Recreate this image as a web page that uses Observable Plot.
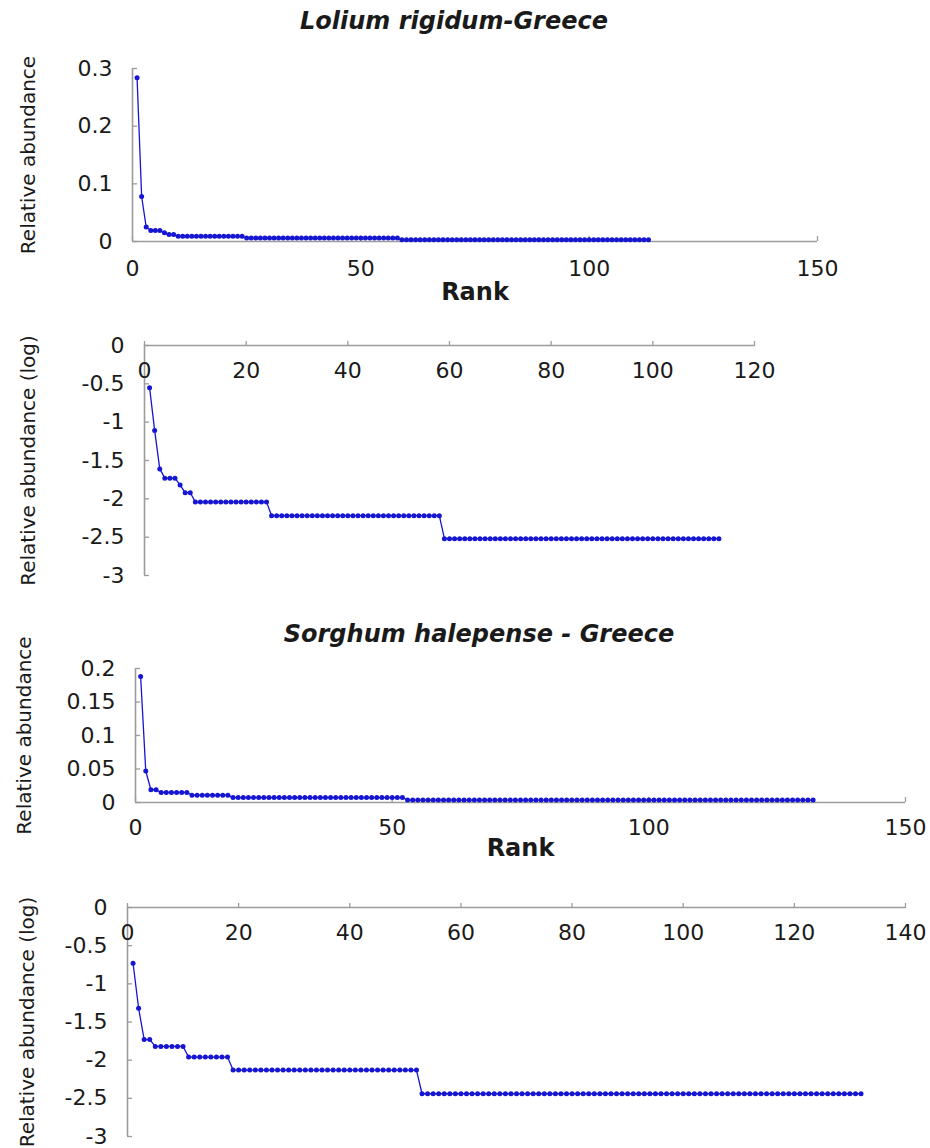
<!DOCTYPE html>
<html>
<head>
<meta charset="utf-8">
<script src="https://cdn.jsdelivr.net/npm/d3@7"></script>
<script src="https://cdn.jsdelivr.net/npm/@observablehq/plot@0.6"></script>
<style>
  html, body { margin: 0; padding: 0; background: #fff; }
  #fig { position: relative; width: 930px; height: 1148px; overflow: hidden; background: #fff; font-family: "DejaVu Sans", sans-serif; }
  .ttl { position: absolute; transform: translate(-50%, -50%); font-family: "DejaVu Sans", sans-serif; font-style: italic; font-weight: bold; font-size: 24px; white-space: nowrap; color: #1a1a1a; }
  .panel { position: absolute; left: 0; }
</style>
</head>
<body>
<div id="fig"></div>
<script>
// ---------- texts ----------
const loliumTitle = "Lolium rigidum-Greece";
const sorghumTitle = "Sorghum halepense - Greece";
const xLabel = "Rank";
const yLabelLinear = "Relative abundance";
const yLabelLog = "Relative abundance (log)";

// ---------- data (index + 1 = rank) ----------
const loliumRelative = [
  0.284, 0.078, 0.025, 0.019, 0.019, 0.019, 0.015, 0.012, 0.012,
  0.009, 0.009, 0.009, 0.009, 0.009, 0.009, 0.009, 0.009, 0.009, 0.009,
  0.009, 0.009, 0.009, 0.009, 0.009,
  0.006, 0.006, 0.006, 0.006, 0.006, 0.006, 0.006, 0.006, 0.006, 0.006,
  0.006, 0.006, 0.006, 0.006, 0.006, 0.006, 0.006, 0.006, 0.006, 0.006,
  0.006, 0.006, 0.006, 0.006, 0.006, 0.006, 0.006, 0.006, 0.006, 0.006,
  0.006, 0.006, 0.006, 0.006,
  0.003, 0.003, 0.003, 0.003, 0.003, 0.003, 0.003, 0.003, 0.003, 0.003,
  0.003, 0.003, 0.003, 0.003, 0.003, 0.003, 0.003, 0.003, 0.003, 0.003,
  0.003, 0.003, 0.003, 0.003, 0.003, 0.003, 0.003, 0.003, 0.003, 0.003,
  0.003, 0.003, 0.003, 0.003, 0.003, 0.003, 0.003, 0.003, 0.003, 0.003,
  0.003, 0.003, 0.003, 0.003, 0.003, 0.003, 0.003, 0.003, 0.003, 0.003,
  0.003, 0.003, 0.003, 0.003, 0.003
];
const loliumLog = [
  -0.55, -1.11, -1.61, -1.73, -1.73, -1.73, -1.82, -1.92, -1.92,
  -2.04, -2.04, -2.04, -2.04, -2.04, -2.04, -2.04, -2.04, -2.04, -2.04,
  -2.04, -2.04, -2.04, -2.04, -2.04,
  -2.22, -2.22, -2.22, -2.22, -2.22, -2.22, -2.22, -2.22, -2.22, -2.22,
  -2.22, -2.22, -2.22, -2.22, -2.22, -2.22, -2.22, -2.22, -2.22, -2.22,
  -2.22, -2.22, -2.22, -2.22, -2.22, -2.22, -2.22, -2.22, -2.22, -2.22,
  -2.22, -2.22, -2.22, -2.22,
  -2.52, -2.52, -2.52, -2.52, -2.52, -2.52, -2.52, -2.52, -2.52, -2.52,
  -2.52, -2.52, -2.52, -2.52, -2.52, -2.52, -2.52, -2.52, -2.52, -2.52,
  -2.52, -2.52, -2.52, -2.52, -2.52, -2.52, -2.52, -2.52, -2.52, -2.52,
  -2.52, -2.52, -2.52, -2.52, -2.52, -2.52, -2.52, -2.52, -2.52, -2.52,
  -2.52, -2.52, -2.52, -2.52, -2.52, -2.52, -2.52, -2.52, -2.52, -2.52,
  -2.52, -2.52, -2.52, -2.52, -2.52
];
const sorghumRelative = [
  0.188, 0.047, 0.019, 0.019,
  0.015, 0.015, 0.015, 0.015, 0.015, 0.015,
  0.011, 0.011, 0.011, 0.011, 0.011, 0.011, 0.011, 0.011,
  0.0074, 0.0074, 0.0074, 0.0074, 0.0074, 0.0074, 0.0074, 0.0074, 0.0074, 0.0074,
  0.0074, 0.0074, 0.0074, 0.0074, 0.0074, 0.0074, 0.0074, 0.0074, 0.0074, 0.0074,
  0.0074, 0.0074, 0.0074, 0.0074, 0.0074, 0.0074, 0.0074, 0.0074, 0.0074, 0.0074,
  0.0074, 0.0074, 0.0074, 0.0074,
  0.0036, 0.0036, 0.0036, 0.0036, 0.0036, 0.0036, 0.0036, 0.0036, 0.0036, 0.0036,
  0.0036, 0.0036, 0.0036, 0.0036, 0.0036, 0.0036, 0.0036, 0.0036, 0.0036, 0.0036,
  0.0036, 0.0036, 0.0036, 0.0036, 0.0036, 0.0036, 0.0036, 0.0036, 0.0036, 0.0036,
  0.0036, 0.0036, 0.0036, 0.0036, 0.0036, 0.0036, 0.0036, 0.0036, 0.0036, 0.0036,
  0.0036, 0.0036, 0.0036, 0.0036, 0.0036, 0.0036, 0.0036, 0.0036, 0.0036, 0.0036,
  0.0036, 0.0036, 0.0036, 0.0036, 0.0036, 0.0036, 0.0036, 0.0036, 0.0036, 0.0036,
  0.0036, 0.0036, 0.0036, 0.0036, 0.0036, 0.0036, 0.0036, 0.0036, 0.0036, 0.0036,
  0.0036, 0.0036, 0.0036, 0.0036, 0.0036, 0.0036, 0.0036, 0.0036, 0.0036, 0.0036
];
const sorghumLog = [
  -0.73, -1.32, -1.73, -1.73,
  -1.82, -1.82, -1.82, -1.82, -1.82, -1.82,
  -1.96, -1.96, -1.96, -1.96, -1.96, -1.96, -1.96, -1.96,
  -2.13, -2.13, -2.13, -2.13, -2.13, -2.13, -2.13, -2.13, -2.13, -2.13,
  -2.13, -2.13, -2.13, -2.13, -2.13, -2.13, -2.13, -2.13, -2.13, -2.13,
  -2.13, -2.13, -2.13, -2.13, -2.13, -2.13, -2.13, -2.13, -2.13, -2.13,
  -2.13, -2.13, -2.13, -2.13,
  -2.44, -2.44, -2.44, -2.44, -2.44, -2.44, -2.44, -2.44, -2.44, -2.44,
  -2.44, -2.44, -2.44, -2.44, -2.44, -2.44, -2.44, -2.44, -2.44, -2.44,
  -2.44, -2.44, -2.44, -2.44, -2.44, -2.44, -2.44, -2.44, -2.44, -2.44,
  -2.44, -2.44, -2.44, -2.44, -2.44, -2.44, -2.44, -2.44, -2.44, -2.44,
  -2.44, -2.44, -2.44, -2.44, -2.44, -2.44, -2.44, -2.44, -2.44, -2.44,
  -2.44, -2.44, -2.44, -2.44, -2.44, -2.44, -2.44, -2.44, -2.44, -2.44,
  -2.44, -2.44, -2.44, -2.44, -2.44, -2.44, -2.44, -2.44, -2.44, -2.44,
  -2.44, -2.44, -2.44, -2.44, -2.44, -2.44, -2.44, -2.44, -2.44, -2.44
];

// ---------- tick values ----------
const linearRankTicks = [0, 50, 100, 150];
const loliumLogRankTicks = [0, 20, 40, 60, 80, 100, 120];
const sorghumLogRankTicks = [0, 20, 40, 60, 80, 100, 120, 140];
const loliumRelTicks = [0, 0.1, 0.2, 0.3];
const sorghumRelTicks = [0, 0.05, 0.1, 0.15, 0.2];
const logTicks = [0, -0.5, -1, -1.5, -2, -2.5, -3];

// ---------- styling ----------
const BLUE = "#1515d2";
const AXIS = "#9c9c9c";
const INK = "#1a1a1a";
const fmt = d => String(d);

function panel(o) {
  const data = o.values.map((v, i) => ({rank: i + 1, value: v}));
  const xTop = o.xTop;
  const marks = [
    Plot.ruleY([0], {stroke: AXIS, strokeWidth: 1.6}),
    Plot.ruleX([0], {stroke: AXIS, strokeWidth: 1.6}),
    // inward tick marks
    Plot.axisY({ticks: o.yTicks, anchor: "left", tickSize: 5, dx: 5, tickFormat: () => "", label: null, stroke: AXIS, strokeWidth: 1.3}),
    Plot.axisX({ticks: o.xTicks, anchor: xTop ? "top" : "bottom", tickSize: 5, dy: xTop ? 0 : -5, tickFormat: () => "", label: null, stroke: AXIS, strokeWidth: 1.3}),
    // tick labels
    Plot.axisY({ticks: o.yTicks, anchor: "left", tickSize: 0, tickPadding: 20, tickFormat: fmt, label: null, fill: INK, fontSize: 22}),
    xTop
      ? Plot.axisX({ticks: o.xTicks, anchor: "top", tickSize: 0, tickPadding: -o.xPad, lineAnchor: "top", tickFormat: fmt, label: null, fill: INK, fontSize: 22})
      : Plot.axisX({ticks: o.xTicks, anchor: "bottom", tickSize: 0, tickPadding: o.xPad, tickFormat: fmt, label: null, fill: INK, fontSize: 22}),
    // axis titles
    Plot.text([o.yLabel], {frameAnchor: "left", textAnchor: "middle", lineAnchor: "middle", rotate: -90, dx: o.yLabelX - o.ml, fontSize: 20, fill: INK}),
    // data
    Plot.line(data, {x: "rank", y: "value", stroke: BLUE, strokeWidth: 1.3}),
    Plot.dot(data, {x: "rank", y: "value", r: 2.5, fill: BLUE, stroke: "none"})
  ];
  if (o.xLabel) {
    marks.push(Plot.text([o.xLabel], {frameAnchor: "bottom", textAnchor: "middle", lineAnchor: "middle", dy: o.xLabelDy, fontSize: 24, fontWeight: "bold", fill: INK}));
  }
  const svg = Plot.plot({
    width: 930,
    height: o.height,
    marginTop: o.mt,
    marginBottom: o.mb,
    marginLeft: o.ml,
    marginRight: o.mr,
    x: {domain: o.xDomain},
    y: {domain: o.yDomain},
    style: {fontFamily: '"DejaVu Sans", sans-serif', fontSize: "22px", color: INK, background: "transparent", overflow: "visible"},
    marks
  });
  svg.classList.add("panel");
  svg.style.top = o.top + "px";
  svg.style.position = "absolute";
  return svg;
}

const fig = document.getElementById("fig");

function addTitle(text, cx, cy) {
  const d = document.createElement("div");
  d.className = "ttl";
  d.textContent = text;
  d.style.left = cx + "px";
  d.style.top = cy + "px";
  fig.appendChild(d);
}

addTitle(loliumTitle, 454, 21);
fig.appendChild(panel({
  values: loliumRelative, xDomain: [0, 150], yDomain: [0, 0.3],
  xTicks: linearRankTicks, yTicks: loliumRelTicks, xTop: false, xPad: 19,
  xLabel: xLabel, xLabelDy: 51, yLabel: yLabelLinear, yLabelX: 28,
  top: 40, height: 275, mt: 28, mb: 74, ml: 132, mr: 113
}));
fig.appendChild(panel({
  values: loliumLog, xDomain: [0, 120], yDomain: [-3, 0],
  xTicks: loliumLogRankTicks, yTicks: logTicks, xTop: true, xPad: 17,
  xLabel: null, yLabel: yLabelLog, yLabelX: 28,
  top: 315, height: 285, mt: 30, mb: 25, ml: 144, mr: 176
}));
addTitle(sorghumTitle, 479, 634);
fig.appendChild(panel({
  values: sorghumRelative, xDomain: [0, 150], yDomain: [0, 0.2],
  xTicks: linearRankTicks, yTicks: sorghumRelTicks, xTop: false, xPad: 17,
  xLabel: xLabel, xLabelDy: 46, yLabel: yLabelLinear, yLabelX: 24,
  top: 652, height: 213, mt: 16, mb: 63, ml: 135, mr: 25
}));
fig.appendChild(panel({
  values: sorghumLog, xDomain: [0, 140], yDomain: [-3, 0],
  xTicks: sorghumLogRankTicks, yTicks: logTicks, xTop: true, xPad: 17,
  xLabel: null, yLabel: yLabelLog, yLabelX: 27,
  top: 865, height: 283, mt: 42, mb: 12, ml: 127, mr: 25
}));
</script>
</body>
</html>
